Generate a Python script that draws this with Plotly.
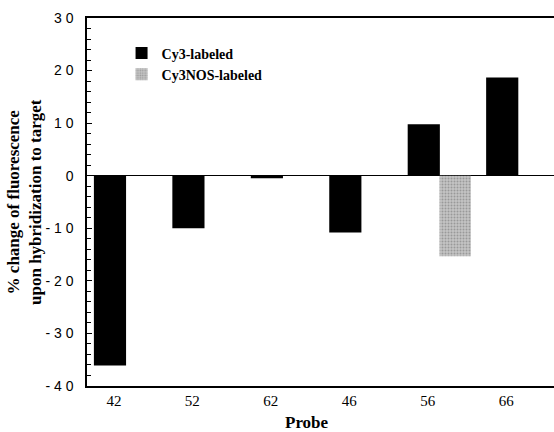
import plotly.graph_objects as go

probes = ["42", "52", "62", "46", "56", "66"]
cy3_values = [-36.1, -10.0, -0.5, -10.8, 9.8, 18.7]
cy3nos_values = [None, None, None, None, -15.3, None]
y_tick_values = [30, 20, 10, 0, -10, -20, -30, -40]
y_tick_labels = ["3 0", "2 0", "1 0", "0", "- 1 0", "- 2 0", "- 3 0", "- 4 0"]

idx = list(range(len(probes)))
fig = go.Figure()
fig.add_trace(go.Bar(
    x=idx, y=cy3_values, width=0.41, name="Cy3-labeled",
    marker=dict(color="black", line=dict(width=0)),
))
fig.add_trace(go.Bar(
    x=[i + 0.4 for i in idx], y=cy3nos_values, width=0.40, name="Cy3NOS-labeled",
    marker=dict(
        color="#c4c4c4", line=dict(width=0),
        pattern=dict(shape=".", fgcolor="#6e6e6e", bgcolor="#c4c4c4", size=3, solidity=0.35),
    ),
))

fig.update_layout(
    width=554, height=432,
    margin=dict(l=87, r=0, t=18, b=46, autoexpand=False),
    plot_bgcolor="white", paper_bgcolor="white",
    barmode="overlay",
    showlegend=True,
    legend=dict(
        x=0.074, y=0.947, xanchor="left", yanchor="top",
        bgcolor="rgba(0,0,0,0)",
        font=dict(family="Liberation Serif", size=14, color="black", weight="bold"),
        tracegroupgap=0, itemsizing="constant",
    ),
    xaxis=dict(
        range=[-0.293, 5.66], automargin=False,
        tickvals=[i + 0.05 for i in idx], ticktext=probes,
        showline=True, linecolor="black", linewidth=1.5, mirror=True,
        ticks="", showgrid=False, zeroline=False,
        tickfont=dict(family="Liberation Serif", size=15, color="black"),
    ),
    yaxis=dict(
        range=[-40, 30], automargin=False,
        tickvals=y_tick_values, ticktext=y_tick_labels,
        showline=True, linecolor="black", linewidth=1.5,
        ticks="inside", ticklen=5, tickcolor="black", tickwidth=1,
        minor=dict(ticks="inside", dtick=2, ticklen=4, tickcolor="black", tickwidth=1),
        showgrid=False,
        zeroline=True, zerolinecolor="black", zerolinewidth=1,
        tickfont=dict(family="Liberation Sans", size=14, color="black"),
        ticklabelstandoff=9,
    ),
    annotations=[
        dict(
            text="% change of fluorescence<br>upon hybridization to target",
            xref="paper", yref="paper", x=-0.135, y=0.5, textangle=-90,
            xanchor="center", yanchor="middle", showarrow=False,
            font=dict(family="Liberation Serif", size=17, color="black", weight="bold"),
        ),
        dict(
            text="Probe", xref="paper", yref="paper", x=0.471, y=-0.1,
            xanchor="center", yanchor="middle", showarrow=False,
            font=dict(family="Liberation Serif", size=17, color="black", weight="bold"),
        ),
    ],
)

fig.write_html(
    "out.html",
    config={"displayModeBar": False},
    post_script="document.body.style.margin='0';document.body.style.overflow='hidden';",
)
